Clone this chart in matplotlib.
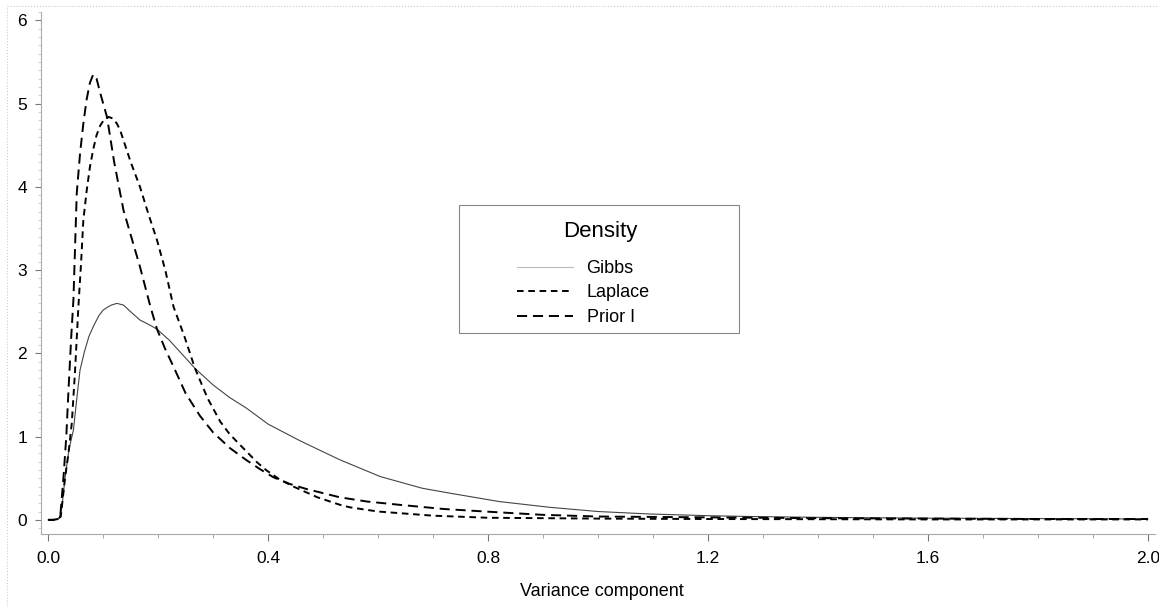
import matplotlib
matplotlib.use("Agg")
import matplotlib.pyplot as plt
from matplotlib.lines import Line2D
from matplotlib.patches import Rectangle
from matplotlib.ticker import MultipleLocator

plt.rcParams['font.family'] = ['Liberation Sans', 'DejaVu Sans']

# density curves
gibbs_x = [0.0, 0.01, 0.02, 0.025, 0.031, 0.038, 0.046, 0.052, 0.058, 0.066, 0.074,
           0.082, 0.092, 0.100, 0.107, 0.115, 0.125, 0.137, 0.150, 0.167, 0.182,
           0.198, 0.22, 0.245, 0.267, 0.30, 0.33, 0.361, 0.40, 0.458, 0.531, 0.604,
           0.68, 0.731, 0.82, 0.913, 1.0, 1.095, 1.2, 1.276, 1.4, 1.6, 1.8, 2.0]
gibbs_y = [0.0, 0.0, 0.02, 0.15, 0.52, 0.85, 1.08, 1.45, 1.8, 2.02, 2.2,
           2.32, 2.45, 2.52, 2.55, 2.58, 2.6, 2.58, 2.5, 2.4, 2.35,
           2.29, 2.16, 1.98, 1.82, 1.62, 1.47, 1.34, 1.15, 0.95, 0.72, 0.52,
           0.38, 0.32, 0.22, 0.15, 0.1, 0.07, 0.05, 0.04, 0.03, 0.02, 0.015, 0.01]

laplace_x = [0.0, 0.01, 0.018, 0.023, 0.031, 0.037, 0.043, 0.049, 0.055, 0.06, 0.064,
             0.07, 0.076, 0.082, 0.088, 0.095, 0.102, 0.110, 0.118, 0.125, 0.131,
             0.14, 0.15, 0.167, 0.182, 0.198, 0.213, 0.228, 0.248, 0.267, 0.29,
             0.313, 0.33, 0.349, 0.361, 0.38, 0.398, 0.42, 0.446, 0.49, 0.531,
             0.549, 0.6, 0.7, 0.8, 1.0, 1.2, 1.6, 2.0]
laplace_y = [0.0, 0.0, 0.01, 0.04, 0.52, 0.8, 1.16, 1.8, 2.56, 3.1, 3.6,
             3.95, 4.24, 4.45, 4.62, 4.74, 4.81, 4.84, 4.82, 4.76, 4.68,
             4.5, 4.3, 4.0, 3.68, 3.36, 3.0, 2.56, 2.2, 1.82, 1.46,
             1.18, 1.03, 0.9, 0.82, 0.69, 0.59, 0.49, 0.40, 0.27, 0.18,
             0.15, 0.1, 0.05, 0.025, 0.015, 0.01, 0.005, 0.005]

prior_x = [0.0, 0.01, 0.018, 0.022, 0.028, 0.033, 0.037, 0.042, 0.046, 0.052, 0.058,
           0.064, 0.07, 0.076, 0.082, 0.088, 0.095, 0.107, 0.12, 0.137, 0.152,
           0.167, 0.186, 0.198, 0.213, 0.228, 0.25, 0.276, 0.30, 0.331, 0.36,
           0.385, 0.41, 0.44, 0.47, 0.531, 0.58, 0.64, 0.72, 0.82, 0.9, 1.0,
           1.2, 1.4, 1.6, 1.8, 2.0]
prior_y = [0.0, 0.0, 0.01, 0.04, 0.52, 1.0, 1.56, 2.2, 2.65, 3.92, 4.4,
           4.76, 5.05, 5.25, 5.35, 5.3, 5.12, 4.84, 4.3, 3.72, 3.38,
           3.04, 2.56, 2.29, 2.05, 1.84, 1.52, 1.25, 1.05, 0.86, 0.72,
           0.61, 0.51, 0.43, 0.37, 0.27, 0.22, 0.18, 0.13, 0.09, 0.06, 0.04,
           0.03, 0.02, 0.015, 0.01, 0.01]

xticks = [0.0, 0.4, 0.8, 1.2, 1.6, 2.0]
xticklabels = ['0.0', '0.4', '0.8', '1.2', '1.6', '2.0']
yticks = [0, 1, 2, 3, 4, 5, 6]

fig = plt.figure(figsize=(11.59, 6.07), dpi=100)
ax = fig.add_axes([41 / 1159, 1 - 534 / 607, (1155 - 41) / 1159, (534 - 12) / 607])

ax.plot(gibbs_x, gibbs_y, color='#444444', lw=0.8)
ax.plot(laplace_x, laplace_y, color='black', lw=1.4, dashes=(3.4, 2.4))
ax.plot(prior_x, prior_y, color='black', lw=1.4, dashes=(5.2, 3.0))

ax.set_xlim(-0.013, 2.013)
ax.set_ylim(-0.17, 6.1)
ax.set_xticks(xticks)
ax.set_xticklabels(xticklabels)
ax.set_yticks(yticks)
ax.xaxis.set_minor_locator(MultipleLocator(0.1))
ax.yaxis.set_minor_locator(MultipleLocator(0.1))
ax.tick_params(axis='x', which='major', length=5, width=0.8, color='#777777',
               labelsize=12.5, pad=7)
ax.tick_params(axis='x', which='minor', length=3, width=0.6, color='#999999')
ax.tick_params(axis='y', which='major', length=4, width=0.8, color='#777777',
               labelsize=12.5, pad=6)
ax.tick_params(axis='y', which='minor', length=2, width=0.5, color='#bbbbbb')
for s in ['top', 'right']:
    ax.spines[s].set_visible(False)
for s in ['left', 'bottom']:
    ax.spines[s].set_color('#aaaaaa')
    ax.spines[s].set_linewidth(0.8)

fig.text(602 / 1159, 1 - 592 / 607, 'Variance component', fontsize=13,
         ha='center', va='center')

# legend box
fig.add_artist(Rectangle((459 / 1159, 1 - 333 / 607), 280 / 1159, 128 / 607,
                         transform=fig.transFigure, fill=False,
                         edgecolor='#888888', lw=0.8))
fig.text(600 / 1159, 1 - 232 / 607, 'Density', fontsize=16,
         ha='center', va='center')
handles = [Line2D([], [], color='#bbbbbb', lw=0.8),
           Line2D([], [], color='black', lw=1.4, dashes=(3.4, 2.4)),
           Line2D([], [], color='black', lw=1.4, dashes=(5.2, 3.0))]
leg = ax.legend(handles, ['Gibbs', 'Laplace', 'Prior I'],
                frameon=False, loc='center left', fontsize=13,
                bbox_to_anchor=(517 / 1159, 1 - 293 / 607),
                bbox_transform=fig.transFigure, borderpad=0, borderaxespad=0,
                handlelength=3.1, handletextpad=0.75, labelspacing=0.42)

# faint outer frame
fig.add_artist(Line2D([7 / 1159, 7 / 1159], [0, 1 - 6 / 607], transform=fig.transFigure,
                      color='#cccccc', lw=0.8, ls=':'))
fig.add_artist(Line2D([7 / 1159, 1], [1 - 6 / 607, 1 - 6 / 607], transform=fig.transFigure,
                      color='#cccccc', lw=0.8, ls=':'))

fig.savefig('out.png', dpi=100)
